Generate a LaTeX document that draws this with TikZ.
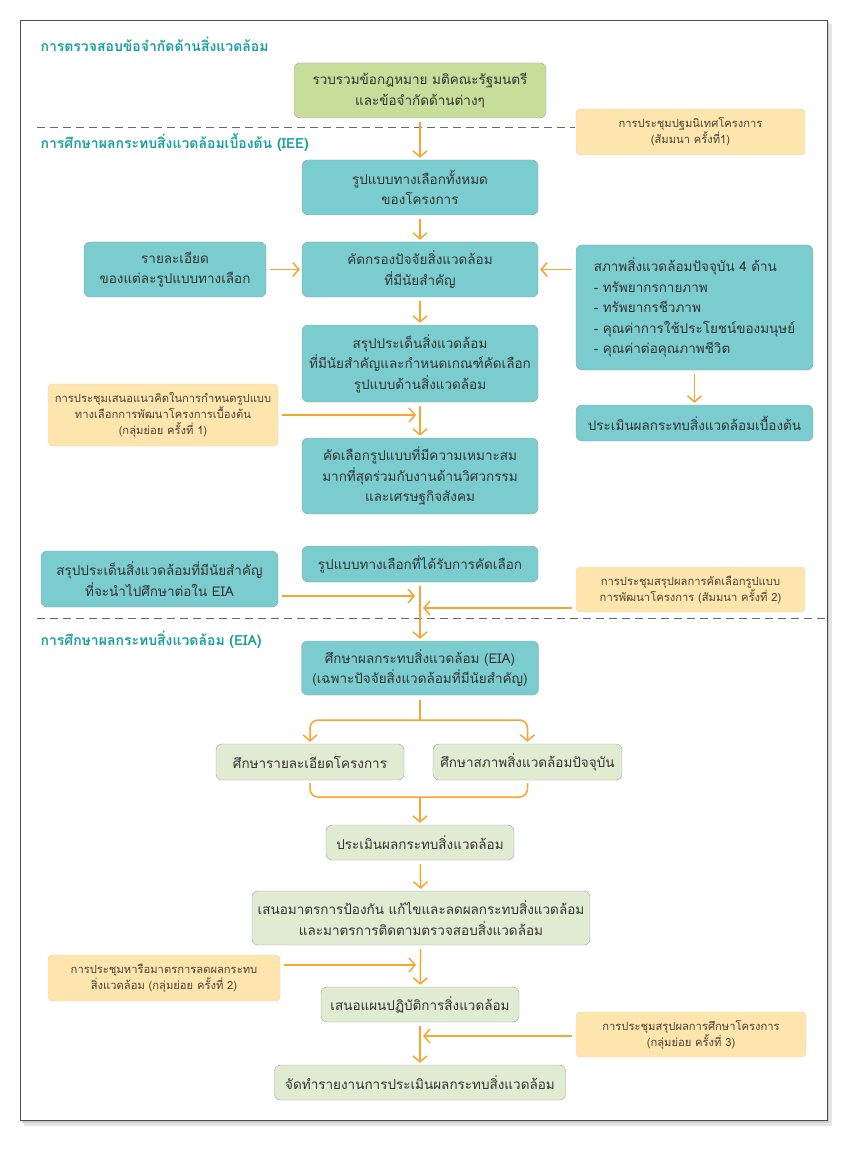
\documentclass[tikz,border=0pt]{standalone}
\usepackage{fontspec}
\setmainfont[Script=Thai]{Loma}
\usetikzlibrary{arrows.meta}
\definecolor{tealfill}{HTML}{7BCCCF}
\definecolor{tealhead}{HTML}{1B9EA0}
\definecolor{limefill}{HTML}{C6DE9A}
\definecolor{sagefill}{HTML}{E1EBD2}
\definecolor{meetfill}{HTML}{FEE5AE}
\definecolor{meettext}{HTML}{4A4236}
\definecolor{boxline}{HTML}{9AA3A3}
\definecolor{flow}{HTML}{F6A530}
\definecolor{sepline}{HTML}{5E6C78}
\definecolor{textdark}{HTML}{333333}

\begin{document}
\begin{tikzpicture}[
  x=1pt, y=-1pt,
  box/.style={
    draw=boxline, rounded corners=6pt, fill=#1, align=center,
    inner sep=2pt, text=textdark, font=\fontsize{13.5}{20.5}\selectfont
  },
  meet/.style={
    draw=meetfill!70!black!40, rounded corners=4pt, fill=meetfill, align=center,
    inner sep=2pt, text=meettext, font=\fontsize{11.2}{16}\selectfont
  },
  head/.style={anchor=west, text=tealhead, font=\fontsize{14}{17}\selectfont\bfseries},
  arr/.style={-{Straight Barb[length=6pt,width=14pt,line width=1.5pt]}, line width=1.5pt, flow,
    shorten <=4pt, shorten >=2pt},
  ln/.style={line width=1.5pt, flow}
]
\useasboundingbox (0,0) rectangle (854,1150);
\fill[black!10] (24,24) rectangle (832,1126);
\fill[black!20] (22,22) rectangle (829,1123);
\draw[fill=white, draw=black!70, line width=0.8pt] (20,20) rectangle (827,1120);

\node[head] (t1) at (37,44) {การตรวจสอบข้อจำกัดด้านสิ่งแวดล้อม};
\node[head] (t2) at (37,143) {การศึกษาผลกระทบสิ่งแวดล้อมเบื้องต้น (IEE)};
\node[head] (t3) at (37,640) {การศึกษาผลกระทบสิ่งแวดล้อม (EIA)};

\draw[sepline, line width=1pt, dash pattern=on 8pt off 5pt] (37,128) -- (575,128);
\draw[sepline, line width=1pt, dash pattern=on 8pt off 5pt] (37,618) -- (830,618);

\node[box=limefill, minimum width=252, minimum height=55] (law) at (420,90.5)
  {รวบรวมข้อกฎหมาย มติคณะรัฐมนตรี\\และข้อจำกัดด้านต่างๆ};
\node[meet, minimum width=229, minimum height=46] (m1) at (690.5,132)
  {การประชุมปฐมนิเทศโครงการ\\(สัมมนา ครั้งที่1)};

\node[box=tealfill, minimum width=236, minimum height=55] (alt) at (420,187.5)
  {รูปแบบทางเลือกทั้งหมด\\ของโครงการ};
\node[box=tealfill, minimum width=236, minimum height=55] (scr) at (420,269.5)
  {คัดกรองปัจจัยสิ่งแวดล้อม\\ที่มีนัยสำคัญ};
\node[box=tealfill, minimum width=182, minimum height=55] (det) at (175,269.5)
  {รายละเอียด\\ของแต่ละรูปแบบทางเลือก};
\node[box=tealfill, minimum width=237, minimum height=125, align=left] (env) at (694.5,307.5)
  {สภาพสิ่งแวดล้อมปัจจุบัน 4 ด้าน\\- ทรัพยากรกายภาพ\\- ทรัพยากรชีวภาพ\\- คุณค่าการใช้ประโยชน์ของมนุษย์\\- คุณค่าต่อคุณภาพชีวิต};
\node[box=tealfill, minimum width=237, minimum height=36] (iee) at (694.5,423)
  {ประเมินผลกระทบสิ่งแวดล้อมเบื้องต้น};
\node[box=tealfill, minimum width=236, minimum height=77] (sum) at (420,363.5)
  {สรุปประเด็นสิ่งแวดล้อม\\ที่มีนัยสำคัญและกำหนดเกณฑ์คัดเลือก\\รูปแบบด้านสิ่งแวดล้อม};
\node[meet, minimum width=230, minimum height=62] (m2) at (163,415)
  {การประชุมเสนอแนวคิดในการกำหนดรูปแบบ\\ทางเลือกการพัฒนาโครงการเบื้องต้น\\(กลุ่มย่อย ครั้งที่ 1)};
\node[box=tealfill, minimum width=236, minimum height=76] (sel) at (420,476)
  {คัดเลือกรูปแบบที่มีความเหมาะสม\\มากที่สุดร่วมกับงานด้านวิศวกรรม\\และเศรษฐกิจสังคม};
\node[box=tealfill, minimum width=236, minimum height=36] (chosen) at (420,564)
  {รูปแบบทางเลือกที่ได้รับการคัดเลือก};
\node[box=tealfill, minimum width=237, minimum height=56] (key) at (159.5,579)
  {สรุปประเด็นสิ่งแวดล้อมที่มีนัยสำคัญ\\ที่จะนำไปศึกษาต่อใน EIA};
\node[meet, minimum width=229, minimum height=45] (m3) at (690.5,589.5)
  {การประชุมสรุปผลการคัดเลือกรูปแบบ\\การพัฒนาโครงการ (สัมมนา ครั้งที่ 2)};

\node[box=tealfill, minimum width=237, minimum height=54] (eia) at (420,668)
  {ศึกษาผลกระทบสิ่งแวดล้อม (EIA)\\(เฉพาะปัจจัยสิ่งแวดล้อมที่มีนัยสำคัญ)};
\node[box=sagefill, minimum width=188, minimum height=36] (proj) at (310,762)
  {ศึกษารายละเอียดโครงการ};
\node[box=sagefill, minimum width=189, minimum height=36] (base) at (527.5,762)
  {ศึกษาสภาพสิ่งแวดล้อมปัจจุบัน};
\node[box=sagefill, minimum width=188, minimum height=35] (asm) at (420,842.5)
  {ประเมินผลกระทบสิ่งแวดล้อม};
\node[box=sagefill, minimum width=338, minimum height=54] (mit) at (421,918)
  {เสนอมาตรการป้องกัน แก้ไขและลดผลกระทบสิ่งแวดล้อม\\และมาตรการติดตามตรวจสอบสิ่งแวดล้อม};
\node[meet, minimum width=232, minimum height=46] (m4) at (164,978)
  {การประชุมหารือมาตรการลดผลกระทบ\\สิ่งแวดล้อม (กลุ่มย่อย ครั้งที่ 2)};
\node[box=sagefill, minimum width=198, minimum height=35] (plan) at (420,1004.5)
  {เสนอแผนปฏิบัติการสิ่งแวดล้อม};
\node[meet, minimum width=230, minimum height=45] (m5) at (691,1034.5)
  {การประชุมสรุปผลการศึกษาโครงการ\\(กลุ่มย่อย ครั้งที่ 3)};
\node[box=sagefill, minimum width=291, minimum height=35] (rep) at (420,1082.5)
  {จัดทำรายงานการประเมินผลกระทบสิ่งแวดล้อม};

\foreach \a/\b in {law/alt, alt/scr, scr/sum, sum/sel, chosen/eia, asm/mit, mit/plan, plan/rep}{
  \draw[arr] (\a) -- (\b);
}
\draw[arr] (det) -- (scr);
\draw[arr] (env.west |- scr) -- (scr);
\draw[arr] (env) -- (iee);

\coordinate (j1) at (420,415);
\coordinate (j2) at (420,596);
\coordinate (j3) at (420,608);
\coordinate (j4) at (420,965);
\coordinate (j5) at (420,1036);
\draw[arr, shorten >=4pt] (m2.east |- j1) -- (j1);
\draw[arr, shorten >=5pt] (key.east |- j2) -- (j2);
\draw[arr, shorten >=3pt] (m3.west |- j3) -- (j3);
\draw[arr, shorten >=4pt] (m4.east |- j4) -- (j4);
\draw[arr, shorten >=3pt] (m5.west |- j5) -- (j5);

\coordinate (fork) at (420,720);
\coordinate (merge) at (420,797);
\draw[ln, shorten <=5pt] (eia) -- (fork);
\draw[arr, rounded corners=8pt, shorten <=0pt] (fork) -| (proj);
\draw[arr, rounded corners=8pt, shorten <=0pt] (fork) -| (base);
\draw[ln, rounded corners=8pt, shorten <=3pt] (proj) |- (merge);
\draw[ln, rounded corners=8pt, shorten <=3pt] (base) |- (merge);
\draw[arr, shorten <=0pt] (merge) -- (asm);
\end{tikzpicture}
\end{document}
